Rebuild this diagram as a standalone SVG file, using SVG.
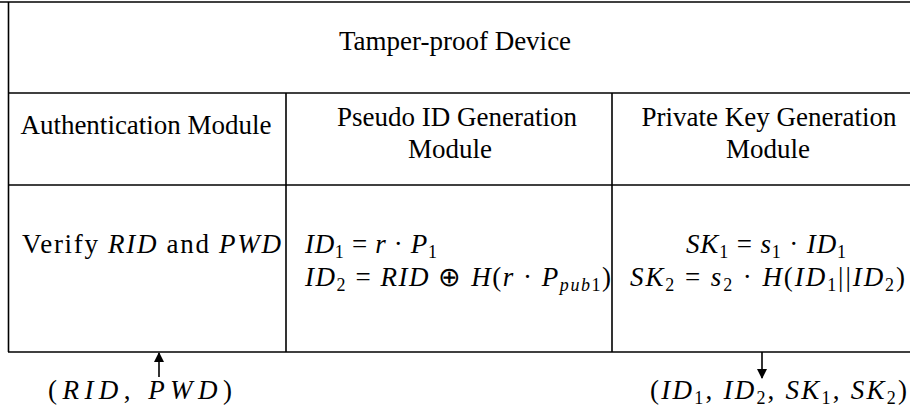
<svg xmlns="http://www.w3.org/2000/svg" width="910" height="412" viewBox="0 0 910 412">
<defs>
<marker id="ah" viewBox="0 0 10 10" refX="9" refY="5" markerWidth="10" markerHeight="10" markerUnits="userSpaceOnUse" orient="auto">
<path d="M0,0 L10,5 L0,10 Z" fill="#000"/>
</marker>
</defs>
<rect width="910" height="412" fill="#fff"/>
<g id="frame" stroke="#000" stroke-width="1.6" fill="none">
<line x1="0" y1="2" x2="910" y2="2"/>
<line x1="8.5" y1="2" x2="8.5" y2="352"/>
<line x1="8" y1="93" x2="910" y2="93"/>
<line x1="8" y1="185" x2="910" y2="185"/>
<line x1="8" y1="352" x2="910" y2="352"/>
<line x1="286" y1="93" x2="286" y2="352"/>
<line x1="612" y1="93" x2="612" y2="352"/>
</g>
<g font-family="Liberation Serif" font-size="27" fill="#000">
<g id="title">
<text x="455" y="50" text-anchor="middle">Tamper-proof Device</text>
</g>
<g id="auth-module">
<text x="146" y="134" text-anchor="middle">Authentication Module</text>
</g>
<g id="pseudo-module">
<text x="457" y="126" text-anchor="middle">Pseudo ID Generation</text>
<text x="450" y="158" text-anchor="middle">Module</text>
</g>
<g id="pkg-module">
<text x="769" y="126" text-anchor="middle">Private Key Generation</text>
<text x="768" y="158" text-anchor="middle">Module</text>
</g>
<g id="auth-body">
<text x="22" y="253" textLength="259" lengthAdjust="spacing">Verify <tspan font-style="italic">RID</tspan> and <tspan font-style="italic">PWD</tspan></text>
</g>
<g id="pseudo-body">
<text x="305" y="253" textLength="132" lengthAdjust="spacing"><tspan font-style="italic">ID</tspan><tspan font-size="18" dy="5">1</tspan><tspan dy="-5"> = </tspan><tspan font-style="italic">r</tspan> · <tspan font-style="italic">P</tspan><tspan font-size="18" dy="5">1</tspan></text>
<text x="305" y="286" textLength="306" lengthAdjust="spacing"><tspan font-style="italic">ID</tspan><tspan font-size="18" dy="5">2</tspan><tspan dy="-5"> = </tspan><tspan font-style="italic">RID</tspan> ⊕ <tspan font-style="italic">H</tspan>(<tspan font-style="italic">r</tspan> · <tspan font-style="italic">P</tspan><tspan font-size="18" font-style="italic" dy="5">pub</tspan><tspan font-size="18">1</tspan><tspan dy="-5">)</tspan></text>
</g>
<g id="pkg-body">
<text x="766" y="253" text-anchor="middle" textLength="160" lengthAdjust="spacing"><tspan font-style="italic">SK</tspan><tspan font-size="18" dy="5">1</tspan><tspan dy="-5"> = </tspan><tspan font-style="italic">s</tspan><tspan font-size="18" dy="5">1</tspan><tspan dy="-5"> · </tspan><tspan font-style="italic">ID</tspan><tspan font-size="18" dy="5">1</tspan></text>
<text x="630" y="286" textLength="275" lengthAdjust="spacing"><tspan font-style="italic">SK</tspan><tspan font-size="18" dy="5">2</tspan><tspan dy="-5"> = </tspan><tspan font-style="italic">s</tspan><tspan font-size="18" dy="5">2</tspan><tspan dy="-5"> · </tspan><tspan font-style="italic">H</tspan>(<tspan font-style="italic">ID</tspan><tspan font-size="18" dy="5">1</tspan><tspan dy="-5">||</tspan><tspan font-style="italic">ID</tspan><tspan font-size="18" dy="5">2</tspan><tspan dy="-5">)</tspan></text>
</g>
<g id="input-label">
<text x="48" y="399" textLength="184" lengthAdjust="spacing">(<tspan font-style="italic">RID</tspan>, <tspan font-style="italic">PWD</tspan>)</text>
</g>
<g id="output-label">
<text x="650" y="399" textLength="257" lengthAdjust="spacing">(<tspan font-style="italic">ID</tspan><tspan font-size="18" dy="5">1</tspan><tspan dy="-5">, </tspan><tspan font-style="italic">ID</tspan><tspan font-size="18" dy="5">2</tspan><tspan dy="-5">, </tspan><tspan font-style="italic">SK</tspan><tspan font-size="18" dy="5">1</tspan><tspan dy="-5">, </tspan><tspan font-style="italic">SK</tspan><tspan font-size="18" dy="5">2</tspan><tspan dy="-5">)</tspan></text>
</g>
</g>
<g id="connectors" stroke="#000" stroke-width="1.6" fill="none">
<line x1="159" y1="377" x2="159" y2="353" marker-end="url(#ah)"/>
<line x1="762" y1="352" x2="762" y2="378" marker-end="url(#ah)"/>
</g>
</svg>
